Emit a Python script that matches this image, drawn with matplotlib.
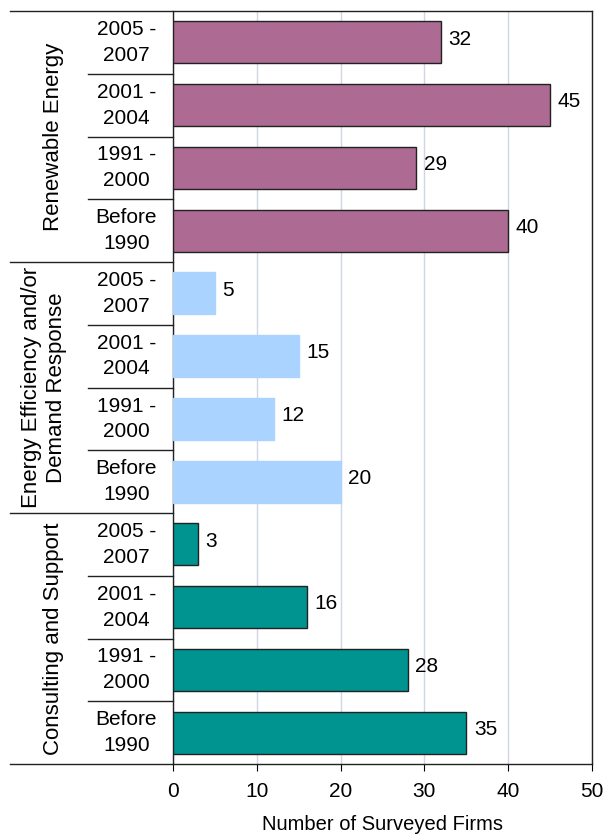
import matplotlib.pyplot as plt
import matplotlib.transforms as mtransforms

plt.rcParams['font.family'] = ['Liberation Sans', 'DejaVu Sans']

groups = ['Renewable Energy', 'Energy Efficiency and/or\nDemand Response', 'Consulting and Support']
periods = ['2005 -\n2007', '2001 -\n2004', '1991 -\n2000', 'Before\n1990']
renewable = [32, 45, 29, 40]
efficiency = [5, 15, 12, 20]
consulting = [3, 16, 28, 35]
colors = ['#AD6A93', '#AAD4FF', '#009490']
edges = ['#222222', '#AAD4FF', '#222222']
x_ticks = [0, 10, 20, 30, 40, 50]

fig = plt.figure(figsize=(6.06, 8.39), dpi=100)
ax = fig.add_axes([173 / 606, 75 / 839, 419 / 606, 753 / 839])

series = [renewable, efficiency, consulting]
for g, vals in enumerate(series):
    pos = [g * 4 + k for k in range(len(vals))]
    ax.barh(pos, vals, height=0.67, color=colors[g], edgecolor=edges[g], linewidth=1, zorder=3)
    for p, v in zip(pos, vals):
        ax.text(v + 0.9, p - 0.05, str(v), va='center', ha='left', fontsize=15)

ax.set_xlim(0, 50)
ax.set_ylim(11.5, -0.5)
ax.set_xticks(x_ticks)
ax.tick_params(axis='x', direction='out', length=5, labelsize=15, pad=8)
ax.set_yticks([])
ax.xaxis.grid(True, color='#D0D6E4', linewidth=1, zorder=0)
ax.set_axisbelow(True)
for s in ax.spines.values():
    s.set_color('#222222')
    s.set_linewidth(1)
ax.spines['top'].set_visible(False)
ax.set_xlabel('Number of Surveyed Firms', fontsize=14.5, labelpad=10)

# left-hand label table
trans = mtransforms.blended_transform_factory(ax.transAxes, ax.transData)
kw = dict(transform=trans, clip_on=False, color='#222222', linewidth=1)
ax.plot([-0.389, 1], [-0.5, -0.5], **kw)
ax.plot([-0.389, 0], [11.5, 11.5], **kw)
for b in [3.5, 7.5]:
    ax.plot([-0.389, 0], [b, b], **kw)
for g in range(3):
    for k in range(1, 4):
        b = g * 4 + k - 0.5
        ax.plot([-0.203, 0], [b, b], **kw)

for g in range(3):
    for k, lab in enumerate(periods):
        ax.text(-0.111, g * 4 + k, lab, transform=trans, ha='center', va='center',
                fontsize=15, linespacing=1.45)
group_x = [-0.285, -0.308, -0.285]
for g, name in enumerate(groups):
    ax.text(group_x[g], g * 4 + 1.5, name, transform=trans, ha='center', va='center',
            rotation=90, fontsize=16, linespacing=1.2)

fig.savefig('out.png', dpi=100)
